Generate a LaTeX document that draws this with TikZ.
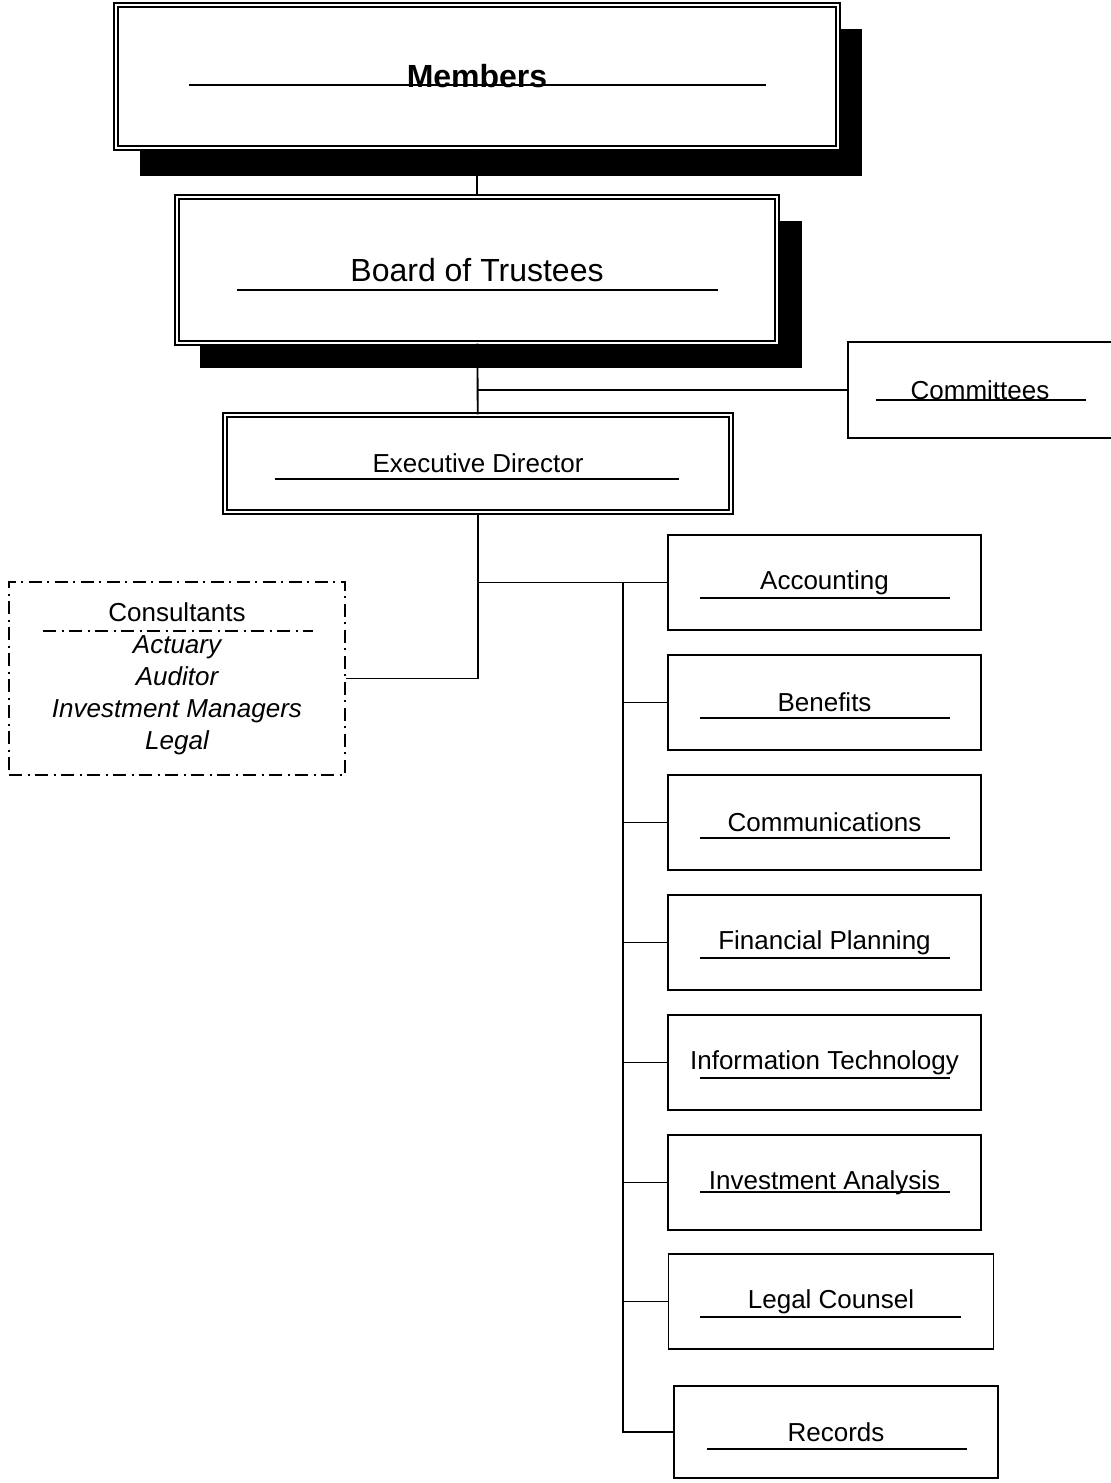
\documentclass[tikz,border=0pt]{standalone}
\usepackage{fontspec}
\setmainfont{Liberation Sans}
\usetikzlibrary{positioning, backgrounds}

\tikzset{
  unitbox/.style={draw, line width=1.4pt, fill=white, inner sep=0pt,
                  font=\fontsize{19.5}{23}\selectfont},
  dblbox/.style={draw, double, double distance=2.2pt, line width=1pt,
                 fill=white, inner sep=0pt},
  shadow/.style={fill=black},
  link/.style={line width=1.4pt},
  uline/.style={line width=1.2pt},
  dashdot/.style={line width=1pt, dash pattern=on 10pt off 4pt on 1.5pt off 4pt},
}

\begin{document}
\begin{tikzpicture}[x=0.75pt, y=-0.75pt]
\useasboundingbox (0,0) rectangle (1110,1483);

% --- Top of the chart ---
\node[dblbox, minimum width=541.5pt, minimum height=107.25pt,
      font=\fontsize{24}{28}\selectfont\bfseries] (members) at (477,76.5) {Members};
\draw[uline] (189,85) -- (766,85);

\node[dblbox, minimum width=450pt, minimum height=109.5pt,
      font=\fontsize{24}{28}\selectfont] (board) at (477,270) {Board of Trustees};
\draw[uline] (237,290) -- (718,290);

\node[unitbox, minimum width=198pt, minimum height=72pt] (cttees) at (980,390) {Committees};
\draw[uline] (876,400) -- (1086,400);

\node[dblbox, minimum width=379.5pt, minimum height=72.75pt,
      font=\fontsize{19.5}{23}\selectfont] (exec) at (478,463.5) {Executive Director};
\draw[uline] (275,479) -- (679,479);

% drop shadows
\begin{scope}[on background layer]
  \fill[shadow] ([shift={(25,25)}]members.north west) rectangle ([shift={(23,27)}]members.south east);
  \fill[shadow] ([shift={(24,25)}]board.north west) rectangle ([shift={(24,24)}]board.south east);
\end{scope}

% --- Consultants ---
\node[draw, dashdot, minimum width=252pt, minimum height=144.75pt, inner sep=0pt,
      align=center, font=\fontsize{19.5}{24}\selectfont] (consult) at (177,678.5)
      {Consultants\\ \itshape Actuary\\ \itshape Auditor\\ \itshape Investment Managers\\ \itshape Legal};
\draw[dashdot] (43,631) -- (313,631);

% --- Staff units ---
\node[unitbox, minimum width=234.75pt, minimum height=71.25pt] (acct) at (824.5,582.5) {Accounting};
\draw[uline] (700,598) -- (950,598);
\node[unitbox, minimum width=234.75pt, minimum height=71.25pt] (bene) at (824.5,702.5) {Benefits};
\draw[uline] (700,718) -- (950,718);
\node[unitbox, minimum width=234.75pt, minimum height=71.25pt] (comm) at (824.5,822.5) {Communications};
\draw[uline] (700,838) -- (950,838);
\node[unitbox, minimum width=234.75pt, minimum height=71.25pt] (finp) at (824.5,942.5) {Financial Planning};
\draw[uline] (700,958) -- (950,958);
\node[unitbox, minimum width=234.75pt, minimum height=71.25pt] (itech) at (824.5,1062.5) {Information Technology};
\draw[uline] (700,1078) -- (950,1078);
\node[unitbox, minimum width=234.75pt, minimum height=71.25pt] (invan) at (824.5,1182.5) {Investment Analysis};
\draw[uline] (700,1192) -- (950,1192);
\node[unitbox, minimum width=243.75pt, minimum height=71.25pt] (legal) at (831,1301.5) {Legal Counsel};
\draw[uline] (700,1317) -- (961,1317);
\node[unitbox, minimum width=243pt, minimum height=69pt] (recs) at (836,1432) {Records};
\draw[uline] (707,1449) -- (967,1449);

% --- Connectors ---
\draw[link] (members) -- (board);
\draw[link] (board) -- (exec);
\draw[link] (cttees.west) -- (cttees.west -| board.south);
\coordinate (split) at (exec.south |- acct.west);
\coordinate (bus) at (623,582.5);
\draw[link] (exec.south) -- (split) -- (acct.west);
\draw[link] (split) -- (split |- consult.east) -- (consult.east);
\draw[link] (bus) |- (recs.west);
\foreach \unit in {bene, comm, finp, itech, invan, legal}
  \draw[link] (bus |- \unit.west) -- (\unit.west);

\end{tikzpicture}
\end{document}
